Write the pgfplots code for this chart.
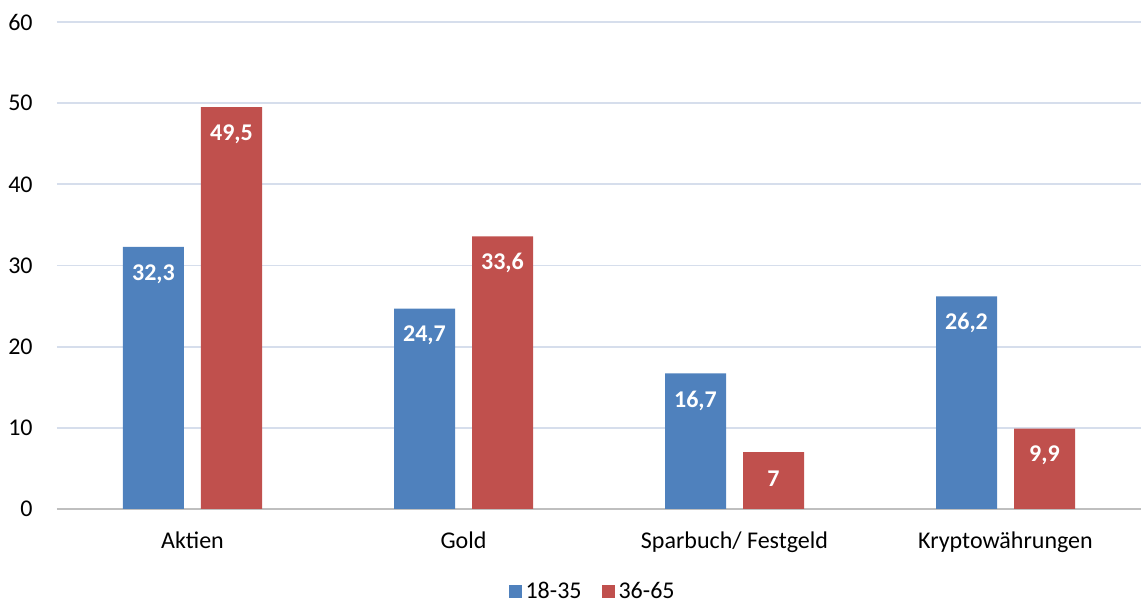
\documentclass[border=0pt]{standalone}
\usepackage{pgfplots}
\pgfplotsset{compat=1.18}
\usepackage{fontspec}
\setmainfont{Carlito}
\definecolor{serA}{HTML}{4F81BD}
\definecolor{serB}{HTML}{C0504D}
\definecolor{gridc}{RGB}{214,222,236}
\definecolor{axisc}{RGB}{191,191,191}
\begin{document}
\fontsize{12pt}{14pt}\selectfont
\begin{tikzpicture}
\path[use as bounding box] (-28.5pt,-47pt) rectangle (542pt,254.5pt);
\begin{axis}[
  at={(0pt,0pt)}, anchor=south west,
  width=542pt, height=243.5pt, scale only axis,
  xmin=-0.5, xmax=3.5, ymin=0, ymax=60,
  ybar, bar width=30.5pt,
  xtick={0,1,2,3},
  xticklabels={Aktien,Gold,Sparbuch/ Festgeld,Kryptowährungen},
  ytick={0,10,...,60},
  ymajorgrids, grid style={gridc, line width=0.9pt},
  axis x line*=bottom, axis y line*=left,
  x axis line style={axisc, line width=0.8pt, -},
  y axis line style={draw=none},
  tick style={draw=none},
  major tick length=0pt,
  /pgf/number format/assume math mode=true,
  /pgf/number format/use comma,
  ticklabel style={font=\fontsize{12pt}{14pt}\selectfont, text=black},
  xticklabel style={yshift=-7pt},
  yticklabel style={xshift=-8pt},
  nodes near coords,
  nodes near coords style={font=\fontsize{12pt}{14pt}\selectfont\bfseries, text=white, anchor=center, yshift=-13.5pt},
  legend style={draw=none, at={(0.495,-0.17)}, anchor=center, legend columns=2,
    font=\fontsize{12pt}{14pt}\selectfont,
    /tikz/every even column/.append style={column sep=8pt}},
  legend image code/.code={\fill[#1] (0pt,-3.25pt) rectangle (6.5pt,3.25pt);},
]
\addplot[fill=serA, draw=none, bar shift=-19.5pt] coordinates {(0,32.3) (1,24.7) (2,16.7) (3,26.2)};
\addplot[fill=serB, draw=none, bar shift=19.5pt] coordinates {(0,49.5) (1,33.6) (2,7) (3,9.9)};
\legend{18-35,36-65}
\end{axis}
\end{tikzpicture}
\end{document}
